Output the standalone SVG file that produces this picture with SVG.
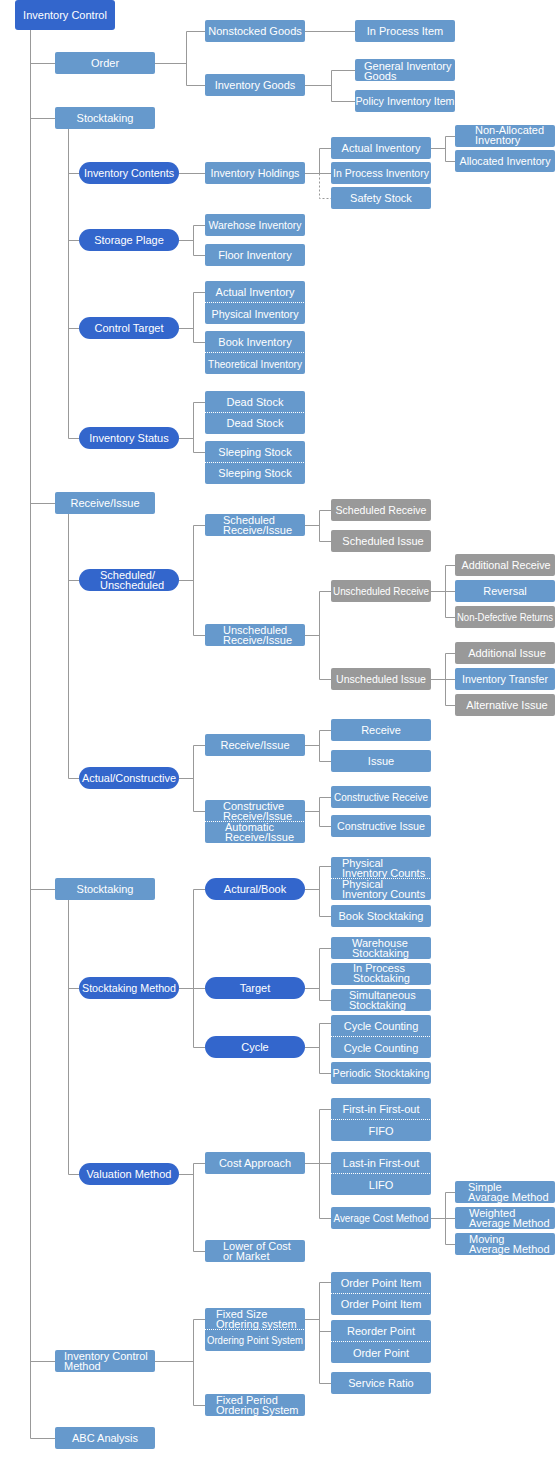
<svg xmlns="http://www.w3.org/2000/svg" width="558" height="1460" viewBox="0 0 558 1460">
<style>
.b{fill:#6699cc}
.d{fill:#3366cc}
.g{fill:#999999}
text{font-family:"Liberation Sans",Arial,sans-serif;font-size:11px;fill:#fff;text-anchor:middle}
text.l{text-anchor:start}
text.s{font-size:10px}
.sep{stroke:#fff;stroke-width:1;stroke-dasharray:1 1}
#connectors path{fill:none;stroke:#999;stroke-width:1}
#connectors path.dash{stroke-dasharray:2 2}
</style>
<rect width="558" height="1460" fill="#fff"/>
<g id="connectors">
<path d="M30.5 30V1438.5 M30.5 63.5H55 M30.5 118.5H55 M30.5 503.5H55 M30.5 889.5H55 M30.5 1361.5H55 M30.5 1438.5H55"/>
<path d="M155 63.5H186.5 M186.5 31.5V85.5 M186.5 31.5H205 M186.5 85.5H205 M305 31.5H355 M305 85.5H331.5 M331.5 70.5V101.5 M331.5 70.5H355 M331.5 101.5H355"/>
<path d="M68.5 129V438.5 M68.5 173.5H79 M68.5 240.5H79 M68.5 328.5H79 M68.5 438.5H79"/>
<path d="M179 173.5H205 M305 173.5H331 M319.5 148.5V173.5 M319.5 148.5H331"/>
<path class="dash" d="M319.5 173.5V198.5H331"/>
<path d="M431 148.5H445.5 M445.5 136.5V161.5 M445.5 136.5H455 M445.5 161.5H455"/>
<path d="M179 240.5H193.5 M193.5 225.5V255.5 M193.5 225.5H205 M193.5 255.5H205"/>
<path d="M179 328.5H193.5 M193.5 292.5V342.5 M193.5 292.5H205 M193.5 342.5H205"/>
<path d="M179 438.5H193.5 M193.5 402.5V452.5 M193.5 402.5H205 M193.5 452.5H205"/>
<path d="M68.5 514V778.5 M68.5 580.5H79 M68.5 778.5H79"/>
<path d="M179 580.5H193.5 M193.5 525.5V635.5 M193.5 525.5H205 M193.5 635.5H205"/>
<path d="M305 525.5H319.5 M319.5 510.5V541.5 M319.5 510.5H331 M319.5 541.5H331"/>
<path d="M305 635.5H319.5 M319.5 591.5V679.5 M319.5 591.5H331 M319.5 679.5H331"/>
<path d="M431 591.5H455 M445.5 565.5V617.5 M445.5 565.5H455 M445.5 617.5H455"/>
<path d="M431 679.5H455 M445.5 653.5V705.5 M445.5 653.5H455 M445.5 705.5H455"/>
<path d="M179 778.5H193.5 M193.5 745.5V811.5 M193.5 745.5H205 M193.5 811.5H205"/>
<path d="M305 745.5H319.5 M319.5 730.5V761.5 M319.5 730.5H331 M319.5 761.5H331"/>
<path d="M305 811.5H319.5 M319.5 797.5V826.5 M319.5 797.5H331 M319.5 826.5H331"/>
<path d="M68.5 900V1174.5 M68.5 988.5H79 M68.5 1174.5H79"/>
<path d="M179 988.5H205 M193.5 889.5V1047.5 M193.5 889.5H205 M193.5 1047.5H205"/>
<path d="M305 889.5H319.5 M319.5 866.5V916.5 M319.5 866.5H331 M319.5 916.5H331"/>
<path d="M305 988.5H319.5 M319.5 948.5V1000.5 M319.5 948.5H331 M319.5 1000.5H331"/>
<path d="M305 1047.5H319.5 M319.5 1023.5V1073.5 M319.5 1023.5H331 M319.5 1073.5H331"/>
<path d="M179 1174.5H193.5 M193.5 1163.5V1251.5 M193.5 1163.5H205 M193.5 1251.5H205"/>
<path d="M305 1163.5H331 M319.5 1109.5V1218.5 M319.5 1109.5H331 M319.5 1218.5H331"/>
<path d="M431 1218.5H455 M445.5 1192.5V1244.5 M445.5 1192.5H455 M445.5 1244.5H455"/>
<path d="M155 1361.5H193.5 M193.5 1319.5V1405.5 M193.5 1319.5H205 M193.5 1405.5H205"/>
<path d="M305 1319.5H319.5 M319.5 1282.5V1383.5 M319.5 1282.5H331 M319.5 1331.5H331 M319.5 1383.5H331"/>
</g>

<g id="root"><rect class="d" x="15" y="0" width="100" height="30" rx="3"/><text x="65" y="18.5">Inventory Control</text></g>

<g id="order"><rect class="b" x="55" y="52" width="100" height="22" rx="2"/><text x="105" y="67">Order</text></g>
<g id="stocktaking1"><rect class="b" x="55" y="107" width="100" height="22" rx="2"/><text x="105" y="122">Stocktaking</text></g>
<g id="receive-issue"><rect class="b" x="55" y="492" width="100" height="22" rx="2"/><text x="105" y="507">Receive/Issue</text></g>
<g id="stocktaking2"><rect class="b" x="55" y="878" width="100" height="22" rx="2"/><text x="105" y="893">Stocktaking</text></g>
<g id="inv-control-method"><rect class="b" x="55" y="1350" width="100" height="22" rx="2"/><text class="l" x="64" y="1359.5">Inventory Control</text><text class="l" x="64" y="1369.5">Method</text></g>
<g id="abc"><rect class="b" x="55" y="1427" width="100" height="22" rx="2"/><text x="105" y="1442">ABC Analysis</text></g>

<g id="inv-contents"><rect class="d" x="79" y="162" width="100" height="22" rx="11"/><text x="129" y="177" textLength="90" lengthAdjust="spacingAndGlyphs">Inventory Contents</text></g>
<g id="storage-plage"><rect class="d" x="79" y="229" width="100" height="22" rx="11"/><text x="129" y="244">Storage Plage</text></g>
<g id="control-target"><rect class="d" x="79" y="317" width="100" height="22" rx="11"/><text x="129" y="332">Control Target</text></g>
<g id="inv-status"><rect class="d" x="79" y="427" width="100" height="22" rx="11"/><text x="129" y="442">Inventory Status</text></g>
<g id="sched-unsched"><rect class="d" x="79" y="569" width="100" height="22" rx="11"/><text class="l" x="100" y="578.5">Scheduled/</text><text class="l" x="100" y="588.5">Unscheduled</text></g>
<g id="actual-constructive"><rect class="d" x="79" y="767" width="100" height="22" rx="11"/><text x="129" y="782" textLength="94" lengthAdjust="spacingAndGlyphs">Actual/Constructive</text></g>
<g id="stocktaking-method"><rect class="d" x="79" y="977" width="100" height="22" rx="11"/><text x="129" y="992" textLength="94" lengthAdjust="spacingAndGlyphs">Stocktaking Method</text></g>
<g id="valuation-method"><rect class="d" x="79" y="1163" width="100" height="22" rx="11"/><text x="129" y="1178">Valuation Method</text></g>

<g id="nonstocked"><rect class="b" x="205" y="20" width="100" height="22" rx="2"/><text x="255" y="35">Nonstocked Goods</text></g>
<g id="inventory-goods"><rect class="b" x="205" y="74" width="100" height="22" rx="2"/><text x="255" y="89">Inventory Goods</text></g>
<g id="inv-holdings"><rect class="b" x="205" y="162" width="100" height="22" rx="2"/><text x="255" y="177" textLength="89" lengthAdjust="spacingAndGlyphs">Inventory Holdings</text></g>
<g id="warehose-inv"><rect class="b" x="205" y="214" width="100" height="22" rx="2"/><text x="255" y="229" textLength="93" lengthAdjust="spacingAndGlyphs">Warehose Inventory</text></g>
<g id="floor-inv"><rect class="b" x="205" y="244" width="100" height="22" rx="2"/><text x="255" y="259">Floor Inventory</text></g>
<g id="actual-physical"><rect class="b" x="205" y="281" width="100" height="43" rx="2"/><line class="sep" x1="205" y1="302.5" x2="305" y2="302.5"/><text x="255" y="296">Actual Inventory</text><text x="255" y="317.5" textLength="87" lengthAdjust="spacingAndGlyphs">Physical Inventory</text></g>
<g id="book-theoretical"><rect class="b" x="205" y="331" width="100" height="43" rx="2"/><line class="sep" x1="205" y1="352.5" x2="305" y2="352.5"/><text x="255" y="346">Book Inventory</text><text x="255" y="367.5" textLength="94" lengthAdjust="spacingAndGlyphs">Theoretical Inventory</text></g>
<g id="dead-stock"><rect class="b" x="205" y="391" width="100" height="43" rx="2"/><line class="sep" x1="205" y1="412.5" x2="305" y2="412.5"/><text x="255" y="406">Dead Stock</text><text x="255" y="427">Dead Stock</text></g>
<g id="sleeping-stock"><rect class="b" x="205" y="441" width="100" height="43" rx="2"/><line class="sep" x1="205" y1="462.5" x2="305" y2="462.5"/><text x="255" y="456">Sleeping Stock</text><text x="255" y="477">Sleeping Stock</text></g>
<g id="sched-ri"><rect class="b" x="205" y="514" width="100" height="22" rx="2"/><text class="l" x="223" y="523.5">Scheduled</text><text class="l" x="223" y="533.5">Receive/Issue</text></g>
<g id="unsched-ri"><rect class="b" x="205" y="624" width="100" height="22" rx="2"/><text class="l" x="223" y="633.5">Unscheduled</text><text class="l" x="223" y="643.5">Receive/Issue</text></g>
<g id="ri2"><rect class="b" x="205" y="734" width="100" height="22" rx="2"/><text x="255" y="749">Receive/Issue</text></g>
<g id="constructive-automatic"><rect class="b" x="205" y="800" width="100" height="43" rx="2"/><line class="sep" x1="205" y1="821.5" x2="305" y2="821.5"/><text class="l" x="223" y="810">Constructive</text><text class="l" x="223" y="820">Receive/Issue</text><text class="l" x="225" y="831">Automatic</text><text class="l" x="225" y="841">Receive/Issue</text></g>
<g id="actural-book"><rect class="d" x="205" y="878" width="100" height="22" rx="11"/><text x="255" y="893">Actural/Book</text></g>
<g id="target"><rect class="d" x="205" y="977" width="100" height="22" rx="11"/><text x="255" y="992">Target</text></g>
<g id="cycle"><rect class="d" x="205" y="1036" width="100" height="22" rx="11"/><text x="255" y="1051">Cycle</text></g>
<g id="cost-approach"><rect class="b" x="205" y="1152" width="100" height="22" rx="2"/><text x="255" y="1167">Cost Approach</text></g>
<g id="lower-cost"><rect class="b" x="205" y="1240" width="100" height="22" rx="2"/><text class="l" x="223" y="1249.5">Lower of Cost</text><text class="l" x="223" y="1259.5">or Market</text></g>
<g id="fixed-size"><rect class="b" x="205" y="1308" width="100" height="43" rx="2"/><line class="sep" x1="205" y1="1329.5" x2="305" y2="1329.5"/><text class="l" x="216" y="1318">Fixed Size</text><text class="l" x="216" y="1328">Ordering system</text><text x="255" y="1344" textLength="96" lengthAdjust="spacingAndGlyphs">Ordering Point System</text></g>
<g id="fixed-period"><rect class="b" x="205" y="1394" width="100" height="22" rx="2"/><text class="l" x="216" y="1403.5">Fixed Period</text><text class="l" x="216" y="1413.5">Ordering System</text></g>

<g id="in-process-item"><rect class="b" x="355" y="20" width="100" height="22" rx="2"/><text x="405" y="35">In Process Item</text></g>
<g id="general-inv-goods"><rect class="b" x="355" y="59" width="100" height="22" rx="2"/><text class="l" x="364" y="69.5">General Inventory</text><text class="l" x="364" y="79.5">Goods</text></g>
<g id="policy-inv-item"><rect class="b" x="355" y="90" width="100" height="22" rx="2"/><text x="405" y="105" textLength="99" lengthAdjust="spacingAndGlyphs">Policy Inventory Item</text></g>

<g id="actual-inv"><rect class="b" x="331" y="137" width="100" height="22" rx="2"/><text x="381" y="152">Actual Inventory</text></g>
<g id="in-process-inv"><rect class="b" x="331" y="162" width="100" height="22" rx="2"/><text x="381" y="177" textLength="96" lengthAdjust="spacingAndGlyphs">In Process Inventory</text></g>
<g id="safety-stock"><rect class="b" x="331" y="187" width="100" height="22" rx="2"/><text x="381" y="202">Safety Stock</text></g>
<g id="sched-receive"><rect class="g" x="331" y="499" width="100" height="22" rx="2"/><text x="381" y="514" textLength="91" lengthAdjust="spacingAndGlyphs">Scheduled Receive</text></g>
<g id="sched-issue"><rect class="g" x="331" y="530" width="100" height="22" rx="2"/><text x="383" y="545">Scheduled Issue</text></g>
<g id="unsched-receive"><rect class="g" x="331" y="580" width="100" height="22" rx="2"/><text x="381" y="595" textLength="96" lengthAdjust="spacingAndGlyphs">Unscheduled Receive</text></g>
<g id="unsched-issue"><rect class="g" x="331" y="668" width="100" height="22" rx="2"/><text x="381" y="683" textLength="90" lengthAdjust="spacingAndGlyphs">Unscheduled Issue</text></g>
<g id="receive"><rect class="b" x="331" y="719" width="100" height="22" rx="2"/><text x="381" y="734">Receive</text></g>
<g id="issue"><rect class="b" x="331" y="750" width="100" height="22" rx="2"/><text x="381" y="765">Issue</text></g>
<g id="constructive-receive"><rect class="b" x="331" y="786" width="100" height="22" rx="2"/><text x="381" y="801" textLength="94" lengthAdjust="spacingAndGlyphs">Constructive Receive</text></g>
<g id="constructive-issue"><rect class="b" x="331" y="815" width="100" height="22" rx="2"/><text x="381" y="830" textLength="88" lengthAdjust="spacingAndGlyphs">Constructive Issue</text></g>
<g id="physical-counts"><rect class="b" x="331" y="857" width="100" height="43" rx="2"/><line class="sep" x1="331" y1="878.5" x2="431" y2="878.5"/><text class="l" x="342" y="867">Physical</text><text class="l" x="342" y="877">Inventory Counts</text><text class="l" x="342" y="888">Physical</text><text class="l" x="342" y="898">Inventory Counts</text></g>
<g id="book-stocktaking"><rect class="b" x="331" y="905" width="100" height="22" rx="2"/><text x="381" y="920">Book Stocktaking</text></g>
<g id="warehouse-stocktaking"><rect class="b" x="331" y="937" width="100" height="22" rx="2"/><text class="l" x="352" y="946.5">Warehouse</text><text class="l" x="352" y="956.5">Stocktaking</text></g>
<g id="in-process-stocktaking"><rect class="b" x="331" y="963" width="100" height="22" rx="2"/><text class="l" x="353" y="972">In Process</text><text class="l" x="353" y="982">Stocktaking</text></g>
<g id="simultaneous-stocktaking"><rect class="b" x="331" y="989" width="100" height="22" rx="2"/><text class="l" x="349" y="998.5">Simultaneous</text><text class="l" x="349" y="1008.5">Stocktaking</text></g>
<g id="cycle-counting"><rect class="b" x="331" y="1015" width="100" height="43" rx="2"/><line class="sep" x1="331" y1="1036.5" x2="431" y2="1036.5"/><text x="381" y="1030">Cycle Counting</text><text x="381" y="1051.5">Cycle Counting</text></g>
<g id="periodic-stocktaking"><rect class="b" x="331" y="1062" width="100" height="22" rx="2"/><text x="381" y="1077" textLength="97" lengthAdjust="spacingAndGlyphs">Periodic Stocktaking</text></g>
<g id="fifo"><rect class="b" x="331" y="1098" width="100" height="43" rx="2"/><line class="sep" x1="331" y1="1119.5" x2="431" y2="1119.5"/><text x="381" y="1113">First-in First-out</text><text x="381" y="1135">FIFO</text></g>
<g id="lifo"><rect class="b" x="331" y="1152" width="100" height="43" rx="2"/><line class="sep" x1="331" y1="1173.5" x2="431" y2="1173.5"/><text x="381" y="1167">Last-in First-out</text><text x="381" y="1189">LIFO</text></g>
<g id="average-cost"><rect class="b" x="331" y="1207" width="100" height="22" rx="2"/><text x="381" y="1222" textLength="95" lengthAdjust="spacingAndGlyphs">Average Cost Method</text></g>
<g id="order-point-item"><rect class="b" x="331" y="1272" width="100" height="43" rx="2"/><line class="sep" x1="331" y1="1293.5" x2="431" y2="1293.5"/><text x="381" y="1287">Order Point Item</text><text x="381" y="1308">Order Point Item</text></g>
<g id="reorder-point"><rect class="b" x="331" y="1320" width="100" height="43" rx="2"/><line class="sep" x1="331" y1="1341.5" x2="431" y2="1341.5"/><text x="381" y="1335">Reorder Point</text><text x="381" y="1356.5">Order Point</text></g>
<g id="service-ratio"><rect class="b" x="331" y="1372" width="100" height="22" rx="2"/><text x="381" y="1387">Service Ratio</text></g>

<g id="non-allocated"><rect class="b" x="455" y="125" width="100" height="22" rx="2"/><text class="l" x="475" y="134">Non-Allocated</text><text class="l" x="475" y="144">Inventory</text></g>
<g id="allocated"><rect class="b" x="455" y="150" width="100" height="22" rx="2"/><text x="505" y="165" textLength="91" lengthAdjust="spacingAndGlyphs">Allocated Inventory</text></g>
<g id="additional-receive"><rect class="g" x="455" y="554" width="100" height="22" rx="2"/><text x="506" y="569" textLength="89" lengthAdjust="spacingAndGlyphs">Additional Receive</text></g>
<g id="reversal"><rect class="b" x="455" y="580" width="100" height="22" rx="2"/><text x="505" y="595">Reversal</text></g>
<g id="non-defective"><rect class="g" x="455" y="606" width="100" height="22" rx="2"/><text class="s" x="505" y="621" textLength="96" lengthAdjust="spacingAndGlyphs">Non-Defective Returns</text></g>
<g id="additional-issue"><rect class="g" x="455" y="642" width="100" height="22" rx="2"/><text x="507" y="657">Additional Issue</text></g>
<g id="inventory-transfer"><rect class="b" x="455" y="668" width="100" height="22" rx="2"/><text x="505" y="683" textLength="86" lengthAdjust="spacingAndGlyphs">Inventory Transfer</text></g>
<g id="alternative-issue"><rect class="g" x="455" y="694" width="100" height="22" rx="2"/><text x="507" y="709">Alternative Issue</text></g>
<g id="simple-avg"><rect class="b" x="455" y="1181" width="100" height="22" rx="2"/><text class="l" x="468" y="1190.5">Simple</text><text class="l" x="468" y="1200.5">Avarage Method</text></g>
<g id="weighted-avg"><rect class="b" x="455" y="1207" width="100" height="22" rx="2"/><text class="l" x="469" y="1216.5">Weighted</text><text class="l" x="469" y="1226.5">Average Method</text></g>
<g id="moving-avg"><rect class="b" x="455" y="1233" width="100" height="22" rx="2"/><text class="l" x="469" y="1242.5">Moving</text><text class="l" x="469" y="1252.5">Average Method</text></g>
</svg>
